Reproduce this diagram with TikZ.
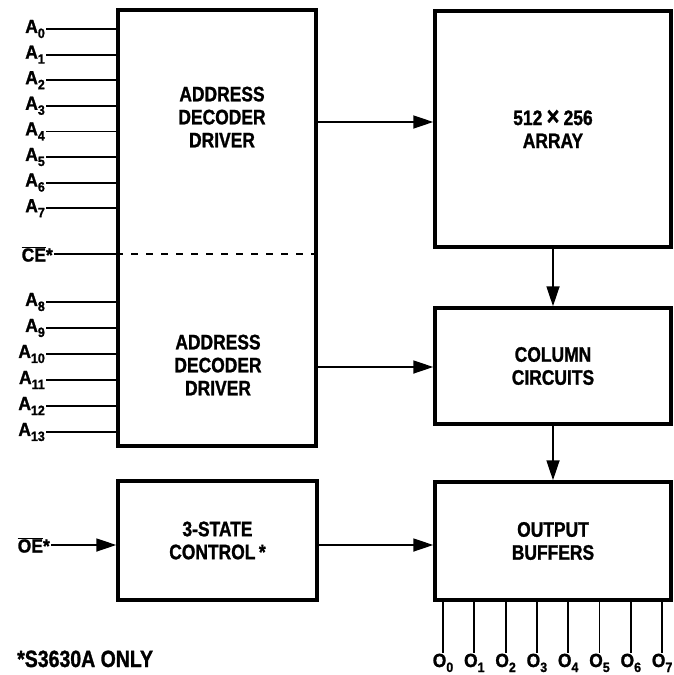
\documentclass[tikz,border=0pt]{standalone}
\usepackage{fontspec}
\usetikzlibrary{arrows.meta}
\newfontfamily\blockfont[FakeStretch=0.83, BoldFeatures={FakeBold=1.2}]{Liberation Sans}
\newfontfamily\pinfont[FakeStretch=0.92, BoldFeatures={FakeBold=1.2}]{Liberation Sans}
\newcommand\pinsub[1]{\raisebox{-5pt}{\fontsize{13.5}{13.5}\selectfont #1}}
\newcommand\negsig[1]{$\overline{\hbox{#1}}$}
\tikzset{
  blk/.style={draw, line width=3.5pt, inner sep=0pt, align=center, font=\blockfont\bfseries\fontsize{21}{23}\selectfont},
  blktxt/.style={inner sep=0pt, align=center, font=\blockfont\bfseries\fontsize{21}{23}\selectfont},
  wire/.style={line width=1.8pt},
  arr/.style={wire, -{Triangle[length=20pt,width=13pt]}},
  pinlbl/.style={inner sep=1pt, font=\pinfont\bfseries\fontsize{19}{19}\selectfont}
}
\begin{document}
\begin{tikzpicture}[x=1pt,y=-1pt]
\useasboundingbox (0,0) rectangle (674,675);
\node[blk, minimum width=198pt, minimum height=436pt] (dec) at (217,228) {};
\node[blktxt] (decU) at (222,117) {ADDRESS\\DECODER\\DRIVER};
\node[blktxt] (decL) at (218,365) {ADDRESS\\DECODER\\DRIVER};
\node[blk, minimum width=236pt, minimum height=236pt] (ary) at (553,129) {512{\fontsize{26}{23}\selectfont\,×\,}256\\ARRAY};
\node[blk, minimum width=236pt, minimum height=116pt] (col) at (553,366) {COLUMN\\CIRCUITS};
\node[blk, minimum width=236pt, minimum height=118pt] (buf) at (553,541) {OUTPUT\\BUFFERS};
\node[blk, minimum width=199pt, minimum height=119pt] (ctl) at (217.5,540.5) {3-STATE\\CONTROL\,*};
\coordinate (rowU) at (0,122);
\coordinate (rowL) at (0,367);
\draw[arr] (dec.east |- rowU) -- (ary.west |- rowU);
\draw[arr] (dec.east |- rowL) -- (col.west |- rowL);
\draw[arr] (ary) -- (col);
\draw[arr] (col) -- (buf);
\foreach \i in {0,...,7} {
  \node[pinlbl, anchor=east] (a\i) at (46,{29+25.6*\i}) {A\pinsub{\i}};
  \draw[wire] (a\i.east) -- (a\i.east -| dec.west);
}
\foreach \i in {8,...,13} {
  \node[pinlbl, anchor=east] (a\i) at (46,{302+26*(\i-8)}) {A\pinsub{\i}};
  \draw[wire] (a\i.east) -- (a\i.east -| dec.west);
}
\node[pinlbl, anchor=east] (ce) at (54,254) {\negsig{CE}*};
\draw[wire] (ce.east) -- (ce.east -| dec.west);
\draw[line width=1.5pt, dash pattern=on 7pt off 8pt] (ce.east -| dec.west) -- (ce.east -| dec.east);
\node[pinlbl, anchor=east] (oe) at (51,545) {\negsig{OE}*};
\draw[arr] (oe.east) -- (oe.east -| ctl.west);
\draw[arr] (oe.east -| ctl.east) -- (oe.east -| buf.west);
\foreach \i in {0,...,7} {
  \node[pinlbl, anchor=base] (o\i) at ({443+31.3*\i},667) {O\pinsub{\i}};
  \draw[wire] (o\i.north |- buf.south) -- (o\i.north);
}
\node[anchor=base west, inner sep=0pt, font=\blockfont\bfseries\fontsize{23.5}{24}\selectfont] (note) at (17,667) {*S3630A ONLY};
\end{tikzpicture}
\end{document}
